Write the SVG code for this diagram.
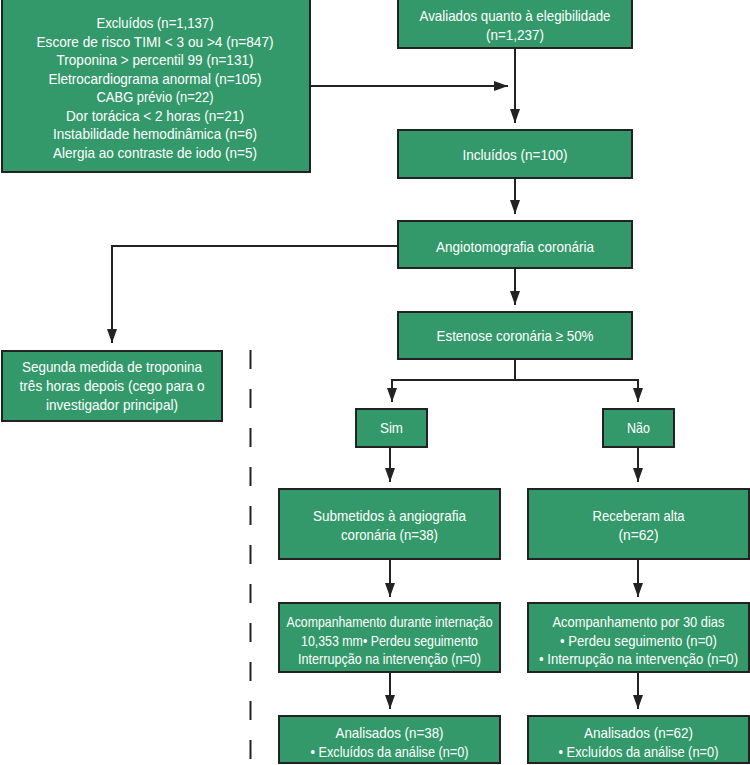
<svg xmlns="http://www.w3.org/2000/svg" width="750" height="765" viewBox="0 0 750 765">
<defs>
<style>
.box{fill:#33996a;stroke:#222;stroke-width:2}
.t{font-family:"Liberation Sans",Arial,sans-serif;font-size:15px;fill:#fff;text-anchor:middle}
.c{fill:none;stroke:#222;stroke-width:2}
</style>
<marker id="ah" markerUnits="userSpaceOnUse" markerWidth="14" markerHeight="10" viewBox="0 0 14 10" refX="14" refY="5" orient="auto">
<path d="M0,0 L14,5 L0,10 Z" fill="#222"/>
</marker>
</defs>
<rect width="750" height="765" fill="#fff"/>
<g id="connectors">
<path class="c" d="M310,86 H508" marker-end="url(#ah)"/>
<path class="c" d="M515,48 V123" marker-end="url(#ah)"/>
<path class="c" d="M515,178 V214" marker-end="url(#ah)"/>
<path class="c" d="M515,268 V305" marker-end="url(#ah)"/>
<path class="c" d="M398,246 H112 V343" marker-end="url(#ah)"/>
<path class="c" d="M515,359 V380"/>
<path class="c" d="M515,380 H392 V402" marker-end="url(#ah)"/>
<path class="c" d="M515,380 H638 V402" marker-end="url(#ah)"/>
<path class="c" d="M390,447 V482" marker-end="url(#ah)"/>
<path class="c" d="M638,447 V482" marker-end="url(#ah)"/>
<path class="c" d="M390,559 V597" marker-end="url(#ah)"/>
<path class="c" d="M638,559 V597" marker-end="url(#ah)"/>
<path class="c" d="M390,672 V709" marker-end="url(#ah)"/>
<path class="c" d="M638,672 V709" marker-end="url(#ah)"/>
<path d="M250.5,350 V765" fill="none" stroke="#222" stroke-width="2" stroke-dasharray="19 20"/>
</g>
<g id="excluidos">
<rect class="box" x="2" y="-1" width="308" height="173"/>
<text class="t" x="155" y="28" textLength="117" lengthAdjust="spacingAndGlyphs">Excluídos (n=1,137)</text>
<text class="t" x="155" y="46.5" textLength="237" lengthAdjust="spacingAndGlyphs">Escore de risco TIMI &lt; 3 ou &gt;4 (n=847)</text>
<text class="t" x="155" y="65" textLength="197" lengthAdjust="spacingAndGlyphs">Troponina &gt; percentil 99 (n=131)</text>
<text class="t" x="155" y="83.5" textLength="213" lengthAdjust="spacingAndGlyphs">Eletrocardiograma anormal (n=105)</text>
<text class="t" x="155" y="102" textLength="117" lengthAdjust="spacingAndGlyphs">CABG prévio (n=22)</text>
<text class="t" x="155" y="120.5" textLength="178" lengthAdjust="spacingAndGlyphs">Dor torácica &lt; 2 horas (n=21)</text>
<text class="t" x="155" y="139" textLength="204" lengthAdjust="spacingAndGlyphs">Instabilidade hemodinâmica (n=6)</text>
<text class="t" x="155" y="157.5" textLength="204" lengthAdjust="spacingAndGlyphs">Alergia ao contraste de iodo (n=5)</text>
</g>
<g id="avaliados">
<rect class="box" x="398" y="-1" width="234" height="49"/>
<text class="t" x="515" y="21" textLength="191" lengthAdjust="spacingAndGlyphs">Avaliados quanto à elegibilidade</text>
<text class="t" x="515" y="40" textLength="58" lengthAdjust="spacingAndGlyphs">(n=1,237)</text>
</g>
<g id="incluidos">
<rect class="box" x="398" y="130" width="234" height="48"/>
<text class="t" x="515" y="160" textLength="105" lengthAdjust="spacingAndGlyphs">Incluídos (n=100)</text>
</g>
<g id="angio">
<rect class="box" x="398" y="221" width="234" height="47"/>
<text class="t" x="515" y="252" textLength="158" lengthAdjust="spacingAndGlyphs">Angiotomografia coronária</text>
</g>
<g id="segunda">
<rect class="box" x="2" y="351" width="220" height="70"/>
<text class="t" x="112" y="372" textLength="180" lengthAdjust="spacingAndGlyphs">Segunda medida de troponina</text>
<text class="t" x="112" y="391" textLength="185" lengthAdjust="spacingAndGlyphs">três horas depois (cego para o</text>
<text class="t" x="112" y="410" textLength="132" lengthAdjust="spacingAndGlyphs">investigador principal)</text>
</g>
<g id="estenose">
<rect class="box" x="398" y="312" width="234" height="47"/>
<text class="t" x="515" y="341" textLength="157" lengthAdjust="spacingAndGlyphs">Estenose coronária ≥ 50%</text>
</g>
<g id="sim">
<rect class="box" x="356" y="409" width="71" height="38"/>
<text class="t" x="391.5" y="433" textLength="23" lengthAdjust="spacingAndGlyphs">Sim</text>
</g>
<g id="nao">
<rect class="box" x="603" y="409" width="71" height="38"/>
<text class="t" x="638.5" y="433" textLength="23" lengthAdjust="spacingAndGlyphs">Não</text>
</g>
<g id="submetidos">
<rect class="box" x="279" y="489" width="221" height="70"/>
<text class="t" x="389.5" y="521" textLength="153" lengthAdjust="spacingAndGlyphs">Submetidos à angiografia</text>
<text class="t" x="389.5" y="540" textLength="97" lengthAdjust="spacingAndGlyphs">coronária (n=38)</text>
</g>
<g id="receberam">
<rect class="box" x="528" y="489" width="221" height="70"/>
<text class="t" x="638.5" y="521" textLength="92" lengthAdjust="spacingAndGlyphs">Receberam alta</text>
<text class="t" x="638.5" y="540" textLength="40" lengthAdjust="spacingAndGlyphs">(n=62)</text>
</g>
<g id="acomp-internacao">
<rect class="box" x="279" y="603" width="221" height="69"/>
<text class="t" x="389.5" y="627" textLength="206" lengthAdjust="spacingAndGlyphs">Acompanhamento durante internação</text>
<text class="t" x="389.5" y="645.5" textLength="177" lengthAdjust="spacingAndGlyphs">10,353 mm• Perdeu seguimento</text>
<text class="t" x="389.5" y="664" textLength="183" lengthAdjust="spacingAndGlyphs">Interrupção na intervenção (n=0)</text>
</g>
<g id="acomp-30dias">
<rect class="box" x="528" y="603" width="221" height="69"/>
<text class="t" x="638.5" y="627" textLength="172" lengthAdjust="spacingAndGlyphs">Acompanhamento por 30 dias</text>
<text class="t" x="638.5" y="645.5" textLength="157" lengthAdjust="spacingAndGlyphs">• Perdeu seguimento (n=0)</text>
<text class="t" x="638.5" y="664" textLength="199" lengthAdjust="spacingAndGlyphs">• Interrupção na intervenção (n=0)</text>
</g>
<g id="analisados-sim">
<rect class="box" x="279" y="716" width="221" height="47"/>
<text class="t" x="389.5" y="738" textLength="108" lengthAdjust="spacingAndGlyphs">Analisados (n=38)</text>
<text class="t" x="389.5" y="757" textLength="158" lengthAdjust="spacingAndGlyphs">• Excluídos da análise (n=0)</text>
</g>
<g id="analisados-nao">
<rect class="box" x="528" y="716" width="221" height="47"/>
<text class="t" x="638.5" y="738" textLength="109" lengthAdjust="spacingAndGlyphs">Analisados (n=62)</text>
<text class="t" x="638.5" y="757" textLength="160" lengthAdjust="spacingAndGlyphs">• Excluídos da análise (n=0)</text>
</g>
</svg>
